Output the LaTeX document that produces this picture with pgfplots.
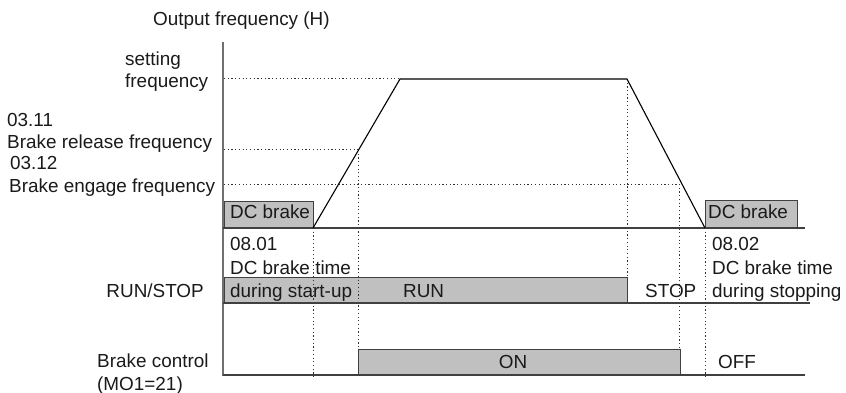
\documentclass[border=0pt]{standalone}
\usepackage{pgfplots}
\pgfplotsset{compat=1.18}
\usepackage{fontspec}
\setmainfont{Liberation Sans}
\definecolor{boxfill}{HTML}{C0C0C0}
\definecolor{boxline}{HTML}{404040}
\definecolor{axline}{HTML}{707070}
\definecolor{dotc}{HTML}{333333}
\definecolor{txt}{HTML}{1A1A1A}
\begin{document}
\fontsize{18.9}{22}\selectfont
\begin{tikzpicture}[
  txtl/.style={anchor=base west, inner sep=0pt, text=txt, font=\fontsize{18.9}{22}\selectfont},
  txtr/.style={anchor=base east, inner sep=0pt, text=txt, font=\fontsize{18.9}{22}\selectfont},
  txtc/.style={anchor=base, inner sep=0pt, text=txt, font=\fontsize{18.9}{22}\selectfont},
  dotl/.style={dotc, line width=1pt, dash pattern=on 1.2pt off 2.5pt},
]
\begin{axis}[
  scale only axis, width=846pt, height=393pt,
  xmin=0, xmax=846, ymin=0, ymax=393, y dir=reverse,
  hide axis, clip=false,
  every axis plot/.append style={mark=none},
]
\coordinate (ll) at (axis cs:0,393);
\coordinate (ur) at (axis cs:846,0);
% boxes
\addplot[fill=boxfill, draw=boxline, line width=1pt] coordinates {(224,201) (313,201) (313,228) (224,228)} -- cycle;
\addplot[fill=boxfill, draw=boxline, line width=1pt] coordinates {(705,200) (797,200) (797,228) (705,228)} -- cycle;
\addplot[fill=boxfill, draw=boxline, line width=1pt] coordinates {(224,277) (627,277) (627,303) (224,303)} -- cycle;
\addplot[fill=boxfill, draw=boxline, line width=1pt] coordinates {(358,349) (680,349) (680,375) (358,375)} -- cycle;
% dotted guide lines
\addplot[dotl] coordinates {(224,79) (400,79)};
\addplot[dotl] coordinates {(224,150) (358,150)};
\addplot[dotl] coordinates {(224,184) (680,184)};
\addplot[dotl] coordinates {(313,228) (313,377)};
\addplot[dotl] coordinates {(358,150) (358,349)};
\addplot[dotl] coordinates {(627,79) (627,277)};
\addplot[dotl] coordinates {(679,184) (679,349)};
\addplot[dotl] coordinates {(705,228) (705,377)};
% axis and baselines
\addplot[axline, line width=1.3pt] coordinates {(223,42) (223,376)};
\addplot[boxline, line width=1.1pt] coordinates {(223,228) (805,228)};
\addplot[boxline, line width=1.1pt] coordinates {(223,303) (810,303)};
\addplot[boxline, line width=1.1pt] coordinates {(223,375) (805,375)};
% output frequency trapezoid
\addplot[black, line width=1.1pt] coordinates {(313,228) (400,79) (627,79) (705,228)};
% texts
\node[txtl] at (axis cs:153,26) {Output frequency (H)};
\node[txtl] at (axis cs:125,66) {setting};
\node[txtl] at (axis cs:125,88) {frequency};
\node[txtl] at (axis cs:7,127) {03.11};
\node[txtl] at (axis cs:7,149) {Brake release frequency};
\node[txtl] at (axis cs:10,170) {03.12};
\node[txtl] at (axis cs:9,192) {Brake engage frequency};
\node[txtl] at (axis cs:230,218) {DC brake};
\node[txtl] at (axis cs:708,218) {DC brake};
\node[txtl] at (axis cs:230,250) {08.01};
\node[txtl] at (axis cs:230,274) {DC brake time};
\node[txtl] at (axis cs:230,297) {during start-up};
\node[txtr] at (axis cs:204,297) {RUN/STOP};
\node[txtl] at (axis cs:403,297) {RUN};
\node[txtl] at (axis cs:645,297) {STOP};
\node[txtl] at (axis cs:712,250) {08.02};
\node[txtl] at (axis cs:712,274) {DC brake time};
\node[txtl] at (axis cs:712,297) {during stopping};
\node[txtl] at (axis cs:97,367) {Brake control};
\node[txtl] at (axis cs:97,390) {(MO1=21)};
\node[txtc] at (axis cs:513,368) {ON};
\node[txtl] at (axis cs:718,368) {OFF};
\end{axis}
\pgfresetboundingbox
\useasboundingbox (ll) rectangle (ur);
\end{tikzpicture}
\end{document}
